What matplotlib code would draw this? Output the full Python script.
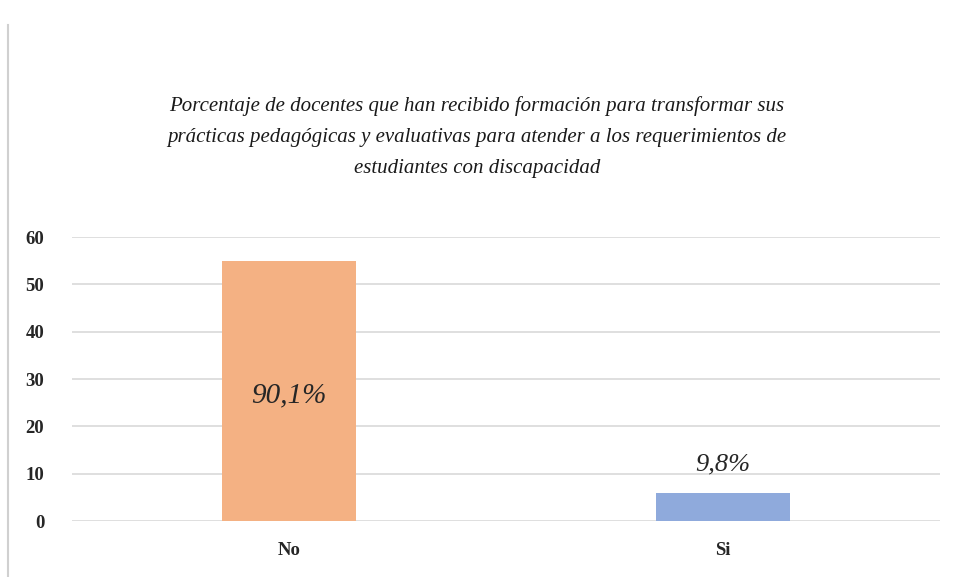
import matplotlib
matplotlib.use('Agg')
import matplotlib.pyplot as plt
from matplotlib.lines import Line2D

categories = ['No', 'Si']
values = [55, 6]
bar_labels = ['90,1%', '9,8%']
bar_colors = ['#F4B183', '#8FAADC']
yticks = [0, 10, 20, 30, 40, 50, 60]

title = ('Porcentaje de docentes que han recibido formación para transformar sus\n'
         'prácticas pedagógicas y evaluativas para atender a los requerimientos de\n'
         'estudiantes con discapacidad')

plt.rcParams['font.family'] = ['Liberation Serif', 'DejaVu Serif']

fig = plt.figure(figsize=(9.54, 5.77), dpi=100)
ax = fig.add_axes([0.0755, 0.097, 0.9095, 0.492])

x = list(range(len(categories)))
ax.bar(x, values, width=0.31, color=bar_colors, zorder=3)

ax.set_xlim(-0.5, 1.5)
ax.set_ylim(0, 60)
ax.set_yticks(yticks)
ax.set_yticklabels([str(t) for t in yticks], fontsize=13.5, fontweight='bold', color='#262626')
ax.set_xticks(x)
ax.set_xticklabels(categories, fontsize=13.5, fontweight='bold', color='#262626')
ax.tick_params(length=0)
ax.tick_params(axis='y', pad=20)
ax.tick_params(axis='x', pad=15)
ax.yaxis.grid(True, color='#d9d9d9', linewidth=1.2, zorder=0)
for s in ax.spines.values():
    s.set_visible(False)

# etiquetas de datos
ax.text(x[0], 26.5, bar_labels[0], ha='center', va='center', fontsize=21,
        style='italic', color='#262626', zorder=4)
ax.text(x[1], values[1] + 6, bar_labels[1], ha='center', va='center', fontsize=19,
        style='italic', color='#262626', zorder=4)

fig.text(0.5, 0.762, title, ha='center', va='center', fontsize=15, style='italic',
         linespacing=1.85, color='#1a1a1a')

# borde izquierdo
fig.add_artist(Line2D([8 / 954, 8 / 954], [0, 1 - 25 / 577], transform=fig.transFigure,
                      color='#d0d0d0', linewidth=1.5))

fig.savefig('out.png', dpi=100)
